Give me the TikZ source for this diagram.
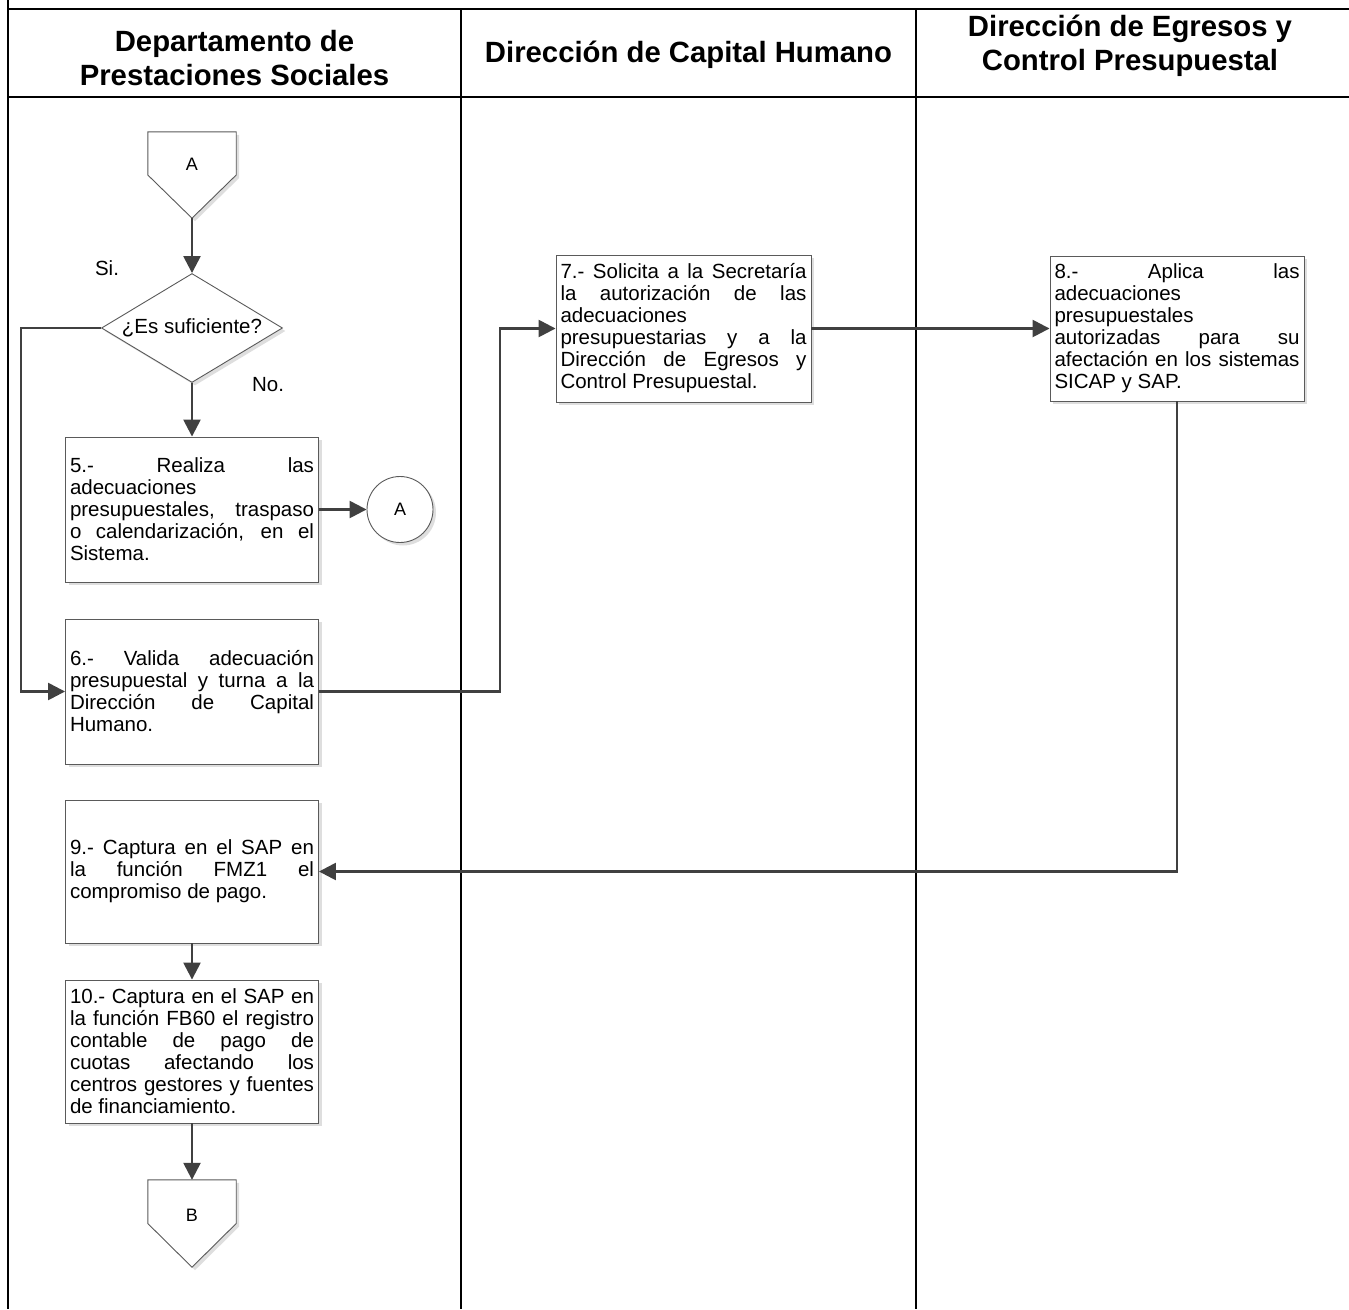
\documentclass[tikz,border=0pt]{standalone}
\usepackage{fontspec}
\setmainfont{Liberation Sans}
\usetikzlibrary{arrows.meta,shadows,shapes.geometric,calc}
\tolerance=10000 \hbadness=10000 \hyphenpenalty=10000
\definecolor{ln}{HTML}{404040}
\definecolor{bd}{HTML}{5A5A5A}
\begin{document}
\begin{tikzpicture}[x=1pt,y=-1pt,
  shd/.style={drop shadow={shadow xshift=3pt,shadow yshift=-3pt,fill=black!13,opacity=1}},
  proc/.style={draw=bd,line width=0.9pt,fill=white,shd,text width=244pt,inner xsep=4.5pt,inner ysep=0pt,align=justify,font=\fontsize{20.5}{22}\selectfont},
  conn/.style={draw=ln,line width=2.5pt,-{Triangle[length=17pt,width=17pt]}},
  frame/.style={draw=black,line width=2.5pt},
  divider/.style={draw=black,line width=1.8pt},
  head/.style={align=center,font=\bfseries\fontsize{29.3}{34}\selectfont},
  lbl/.style={font=\fontsize{20.5}{22}\selectfont,inner sep=0pt},
  small/.style={font=\fontsize{18}{20}\selectfont,inner sep=0pt}
]
\useasboundingbox (0,0) rectangle (1349,1309);
% frame
\draw[divider] (461,9) -- (461,1309);
\draw[divider] (916,9) -- (916,1309);
\draw[frame] (8,0) -- (8,1309);
\draw[frame] (8,9) -- (1349,9);
\draw[frame] (8,97) -- (1349,97);
% headers
\node[head] (h1) at (234.5,58) {Departamento de\\Prestaciones Sociales};
\node[head] (h2) at (688.5,55) {Dirección de Capital Humano};
\node[head] (h3) at (1130,46) {Dirección de Egresos y\\Control Presupuestal};
% off-page A
\node[minimum width=88pt,minimum height=86pt,inner sep=0pt] (offA) at (192,175) {};
\path[draw=bd,line width=0.9pt,fill=white,shd] (offA.north west) -- (offA.north east) -- (offA.east) -- (offA.south) -- (offA.west) -- cycle;
\node[small] (lA) at (192,164) {A};
% decision
\node[diamond,draw=bd,line width=0.9pt,fill=white,shd,minimum width=181pt,minimum height=109pt,inner sep=0pt,aspect=1.66,font=\fontsize{20.5}{22}\selectfont] (dec) at (192,328) {¿Es suficiente?};
\node[lbl] (si) at (107,268) {Si.};
\node[lbl] (no) at (268,385) {No.};
% boxes
\node[proc,minimum height=145pt] (b5) at (192,509.5) {5.- Realiza las\linebreak adecuaciones\linebreak presupuestales, traspaso\linebreak o calendarización, en el\linebreak Sistema.};
\node[circle,draw=bd,line width=0.9pt,fill=white,shd,minimum size=66pt,inner sep=0pt,font=\fontsize{18}{20}\selectfont] (cA) at (400,509.5) {A};
\node[proc,minimum height=145pt] (b6) at (192,691.5) {6.- Valida adecuación\linebreak presupuestal y turna a la\linebreak Dirección de Capital\linebreak Humano.};
\node[proc,minimum height=147pt,text width=246pt] (b7) at (683.5,328.5) {7.- Solicita a la Secretaría\linebreak la autorización de las\linebreak adecuaciones\linebreak presupuestarias y a la\linebreak Dirección de Egresos y\linebreak Control Presupuestal.};
\node[proc,minimum height=145pt,text width=245pt] (b8) at (1177,328.5) {8.- Aplica las\linebreak adecuaciones\linebreak presupuestales\linebreak autorizadas para su\linebreak afectación en los sistemas\linebreak SICAP y SAP.};
\node[proc,minimum height=143pt] (b9) at (192,871.5) {9.- Captura en el SAP en\linebreak la función FMZ1 el\linebreak compromiso de pago.};
\node[proc,minimum height=143pt] (b10) at (192,1051.5) {10.- Captura en el SAP en\linebreak la función FB60 el registro\linebreak contable de pago de\linebreak cuotas afectando los\linebreak centros gestores y fuentes\linebreak de financiamiento.};
% off-page B
\node[minimum width=88pt,minimum height=87pt,inner sep=0pt] (offB) at (192,1223.5) {};
\path[draw=bd,line width=0.9pt,fill=white,shd] (offB.north west) -- (offB.north east) -- (offB.east) -- (offB.south) -- (offB.west) -- cycle;
\node[small] (lB) at (192,1215) {B};
% connectors
\draw[conn] (offA.south) -- (dec.north);
\draw[conn] (dec.south) -- (b5.north);
\draw[conn] (dec.west) -- ++(-80,0) |- (b6.west);
\draw[conn] (b5.east) -- (cA.west);
\draw[conn] (b6.east) -- ++(181,0) |- (b7.west);
\draw[conn] (b7.east) -- (b8.west);
\draw[conn] (b8.south) |- (b9.east);
\draw[conn] (b9.south) -- (b10.north);
\draw[conn] (b10.south) -- (offB.north);
\end{tikzpicture}
\end{document}
